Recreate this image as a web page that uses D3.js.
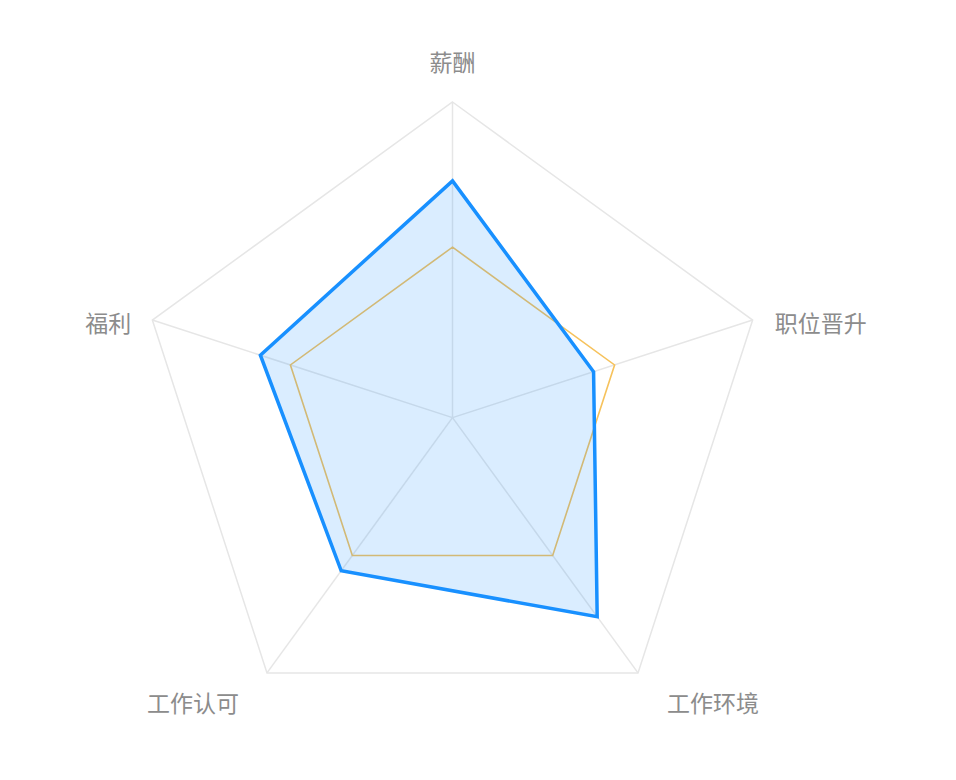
<!DOCTYPE html>
<html>
<head>
<meta charset="utf-8">
<script src="https://cdn.jsdelivr.net/npm/d3@7"></script>
<style>
  html, body { margin: 0; padding: 0; background: #fff; }
  text { font-family: "Noto Sans CJK SC", "Noto Sans", sans-serif; }
</style>
</head>
<body>
<div id="chart"></div>
<script>
// Axes of the radar (clockwise from top)
const dimensions = ["薪酬", "职位晋升", "工作环境", "工作认可", "福利"];

// Series values, scale 0-100
const blueValues = [75, 47, 78, 60, 64];
const yellowValues = [54, 54, 54, 54, 54];
const maxValue = 100;

const width = 956, height = 780;
const cx = 452.5, cy = 417.6, radius = 315.6;

const svg = d3.select("#chart")
    .append("svg")
    .attr("width", width)
    .attr("height", height);

const g = svg.append("g")
    .attr("transform", `translate(${cx},${cy})`);

// radial scale and angle for each axis
const rScale = d3.scaleLinear().domain([0, maxValue]).range([0, radius]);
const angle = d3.scalePoint()
    .domain(dimensions)
    .range([0, 2 * Math.PI * (dimensions.length - 1) / dimensions.length]);

const pt = (dim, v) => {
    const a = angle(dim);
    return [Math.sin(a) * rScale(v), -Math.cos(a) * rScale(v)];
};

// outer grid pentagon
g.append("polygon")
    .attr("points", dimensions.map(d => pt(d, maxValue).join(",")).join(" "))
    .style("fill", "none")
    .style("stroke", "#e6e6e6")
    .style("stroke-width", 1.5);

// spokes
g.selectAll(".spoke")
    .data(dimensions)
    .enter()
    .append("line")
    .attr("class", "spoke")
    .attr("x1", 0).attr("y1", 0)
    .attr("x2", d => pt(d, maxValue)[0])
    .attr("y2", d => pt(d, maxValue)[1])
    .style("stroke", "#e6e6e6")
    .style("stroke-width", 1.5);

const line = d3.lineRadial()
    .angle((d, i) => angle(dimensions[i]))
    .radius(d => rScale(d))
    .curve(d3.curveLinearClosed);

// yellow series (thin line, drawn under the blue area)
g.append("path")
    .attr("d", line(yellowValues))
    .style("fill", "none")
    .style("stroke", "#f6c25c")
    .style("stroke-width", 1.6);

// blue series area + line
g.append("path")
    .attr("d", line(blueValues))
    .style("fill", "#1890ff")
    .style("fill-opacity", 0.16)
    .style("stroke", "none");

g.append("path")
    .attr("d", line(blueValues))
    .style("fill", "none")
    .style("stroke", "#1890ff")
    .style("stroke-width", 3.5)
    .style("stroke-linejoin", "miter");

// labels around the outside
g.selectAll(".label")
    .data(dimensions)
    .enter()
    .append("text")
    .attr("class", "label")
    .each(function (d) {
        const [x, y] = pt(d, maxValue);
        const a = angle(d);
        const s = Math.sin(a), c = Math.cos(a);
        let lx = x, ly = y, anchor = "middle";
        if (Math.abs(s) < 0.1) {
            ly = y - 41;
        } else if (c > 0) {
            anchor = s > 0 ? "start" : "end";
            lx = x + (s > 0 ? 22 : -21);
            ly = y + 2;
        } else {
            anchor = s > 0 ? "start" : "end";
            lx = x + (s > 0 ? 29 : -28);
            ly = y + 29;
        }
        d3.select(this)
            .attr("x", lx)
            .attr("y", ly)
            .attr("text-anchor", anchor)
            .attr("dominant-baseline", "central");
    })
    .style("font-size", "23px")
    .style("fill", "#8c8c8c")
    .text(d => d);
</script>
</body>
</html>
